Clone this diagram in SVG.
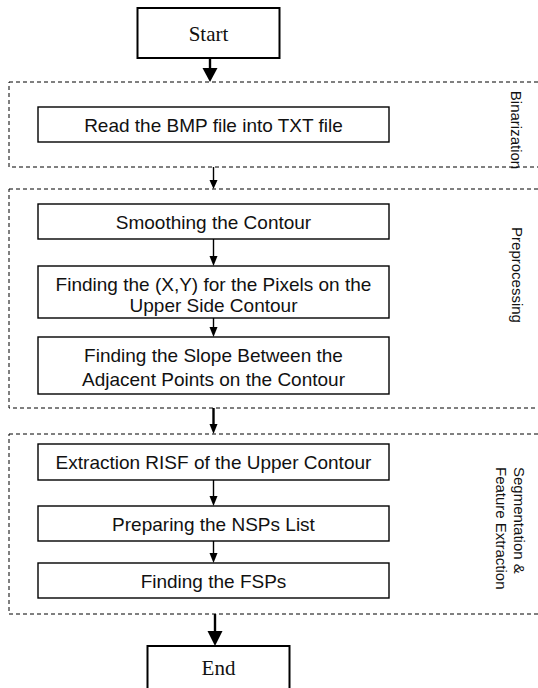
<svg xmlns="http://www.w3.org/2000/svg" width="538" height="688" viewBox="0 0 538 688">
<style>
.box{fill:#fff;stroke:#000;stroke-width:1.4}
.term{fill:#fff;stroke:#000;stroke-width:2}
.grp{fill:none;stroke:#000;stroke-width:1;stroke-dasharray:4 3}
.t{font-family:"Liberation Sans",Arial,sans-serif;font-size:19px;fill:#111;text-anchor:middle}
.tt{font-family:"Liberation Serif","Times New Roman",serif;font-size:21px;fill:#111;text-anchor:middle}
.side{font-family:"Liberation Sans",Arial,sans-serif;font-size:15px;fill:#111}
.ln{stroke:#000;stroke-width:1.4;fill:none}
.lnb{stroke:#000;stroke-width:2.4;fill:none}
</style>
<g id="group-binarization"><rect class="grp" x="9" y="82" width="535" height="85"/><text class="side" text-anchor="middle" transform="translate(511,130) rotate(90)">Binarization</text></g>
<g id="group-preprocessing"><rect class="grp" x="9" y="189" width="535" height="219"/><text class="side" text-anchor="middle" transform="translate(512,275) rotate(90)">Preprocessing</text></g>
<g id="group-segmentation"><rect class="grp" x="9" y="434" width="535" height="180"/><text class="side" transform="translate(514,467) rotate(90)"><tspan x="0" y="0">Segmentation &amp;</tspan><tspan x="0" y="18">Feature Extraction</tspan></text></g>
<g id="start"><rect class="term" x="137.5" y="8" width="142" height="50"/><text class="tt" x="208.5" y="41">Start</text></g>
<g id="read"><rect class="box" x="38" y="107" width="351" height="35"/><text class="t" x="213.5" y="131.5">Read the BMP file into TXT file</text></g>
<g id="smooth"><rect class="box" x="38" y="204" width="351" height="35"/><text class="t" x="213.5" y="228.5">Smoothing the Contour</text></g>
<g id="findxy"><rect class="box" x="38" y="266" width="351" height="52"/><text class="t" x="213.5" y="291">Finding the (X,Y) for the Pixels on the</text><text class="t" x="213.5" y="312">Upper Side Contour</text></g>
<g id="slope"><rect class="box" x="38" y="337" width="351" height="57"/><text class="t" x="213.5" y="362">Finding the Slope Between the</text><text class="t" x="213.5" y="386">Adjacent Points on the Contour</text></g>
<g id="risf"><rect class="box" x="38" y="444" width="351" height="36"/><text class="t" x="213.5" y="469">Extraction RISF of the Upper Contour</text></g>
<g id="nsp"><rect class="box" x="38" y="506" width="351" height="35"/><text class="t" x="213.5" y="530.5">Preparing the NSPs List</text></g>
<g id="fsp"><rect class="box" x="38" y="563" width="351" height="35"/><text class="t" x="213.5" y="587.5">Finding the FSPs</text></g>
<g id="end"><rect class="term" x="147.5" y="646" width="142" height="50"/><text class="tt" x="218.5" y="675">End</text></g>
<g id="connectors">
<line class="lnb" x1="210" y1="58" x2="210" y2="69"/><polygon points="202.5,68 217.5,68 210,82"/>
<line class="ln" x1="213.5" y1="167" x2="213.5" y2="181"/><polygon points="209.5,180 217.5,180 213.5,189"/>
<line class="ln" x1="213.5" y1="239" x2="213.5" y2="257"/><polygon points="209.5,256 217.5,256 213.5,266"/>
<line class="ln" x1="213.5" y1="318" x2="213.5" y2="328"/><polygon points="209.5,327 217.5,327 213.5,337"/>
<line class="lnb" x1="213.5" y1="408" x2="213.5" y2="425"/><polygon points="209.5,424 217.5,424 213.5,434"/>
<line class="ln" x1="213.5" y1="480" x2="213.5" y2="497"/><polygon points="209.5,496 217.5,496 213.5,506"/>
<line class="ln" x1="213.5" y1="541" x2="213.5" y2="554"/><polygon points="209.5,553 217.5,553 213.5,563"/>
<line class="lnb" x1="215" y1="614" x2="215" y2="632"/><polygon points="207.5,631 222.5,631 215,646"/>
</g>
</svg>
